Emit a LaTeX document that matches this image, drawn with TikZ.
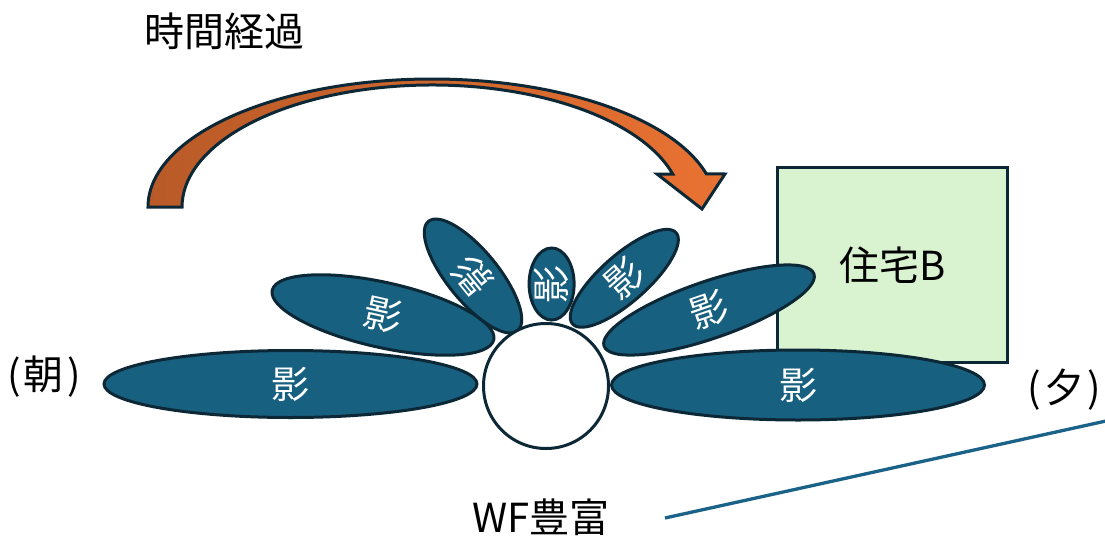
\documentclass[tikz,border=0pt]{standalone}
\usepackage{fontspec}
\setmainfont{Noto Sans CJK JP}
\usetikzlibrary{shapes.geometric}
\definecolor{outl}{RGB}{12,40,54}
\definecolor{shfill}{RGB}{24,96,128}
\definecolor{housefill}{RGB}{217,242,208}
\definecolor{arrL}{RGB}{184,90,40}
\definecolor{arrR}{RGB}{233,114,50}
\definecolor{wfline}{RGB}{26,98,136}
\begin{document}
\begin{tikzpicture}[x=1pt,y=-1pt,
  shadowshape/.style={ellipse, draw=outl, fill=shfill, line width=3pt, inner sep=0pt},
  shadowtext/.style={text=white, font=\fontsize{38}{40}\selectfont, inner sep=0pt},
  txt/.style={text=black, font=\fontsize{40}{44}\selectfont, inner sep=0pt},
  arrowshape/.style={draw=outl, line width=3pt, left color=arrL, right color=arrR, line join=miter},
  housebox/.style={draw=outl, fill=housefill, line width=3pt, inner sep=0pt},
  wfcircle/.style={circle, draw=outl, fill=white, line width=3pt, inner sep=0pt},
  wfconn/.style={draw=wfline, line width=3.3pt}
]
\useasboundingbox (0,0) rectangle (1105,538);

% curved arrow (time passing)
\path[arrowshape]
  (148,207) arc[start angle=180, end angle=345, x radius=284, y radius=128]
  -- (725,174) -- (702,209) -- (657,174) -- (672.7,174)
  arc[start angle=344.3, end angle=180, x radius=250, y radius=122] -- cycle;

\node[txt] (title) at (224.5,31.5) {時間経過};

% house
\node[housebox, minimum width=230pt, minimum height=195pt, txt] (house) at (892.5,265) {住宅B};

% shadows
\node[shadowshape, minimum width=227pt, minimum height=65pt, rotate=-12.6] (e2) at (383,315) {};
\node[shadowtext, rotate=-12.6] (t2) at (e2) {影};
\node[shadowshape, minimum width=141pt, minimum height=51pt, rotate=129.2] (e3) at (473,276) {};
\node[shadowtext, rotate=129.2] (t3) at (e3) {影};
\node[shadowshape, minimum width=72pt, minimum height=45pt, rotate=90] (e4) at (551.6,284) {};
\node[shadowtext, rotate=90] (t4) at (e4) {影};
\node[shadowshape, minimum width=138pt, minimum height=47pt, rotate=41.4] (e5) at (624.3,278.3) {};
\node[shadowtext, rotate=41.4] (t5) at (e5) {影};
\node[shadowshape, minimum width=222pt, minimum height=57pt, rotate=19] (e6) at (709,310) {};
\node[shadowtext, rotate=19] (t6) at (e6) {影};
\node[shadowshape, minimum width=373pt, minimum height=67pt] (e1) at (290.5,384) {};
\node[shadowtext] (t1) at (e1) {影};
\node[shadowshape, minimum width=373pt, minimum height=70pt] (e7) at (798,385) {};
\node[shadowtext] (t7) at (e7) {影};

% wind farm circle
\node[wfcircle, minimum size=125pt] (wf) at (546,386) {};

% labels
\node[txt] (morning) at (44,377) {(\kern3pt朝\kern3pt)};
\node[txt] (evening) at (1064,390) {(\kern3pt夕\kern3pt)};
\node[txt] (wflabel) at (541,517) {WF豊富};

\coordinate (linestart) at (665,518);
\coordinate (lineend) at (1106,421);
\draw[wfconn] (linestart) -- (lineend);
\end{tikzpicture}
\end{document}
